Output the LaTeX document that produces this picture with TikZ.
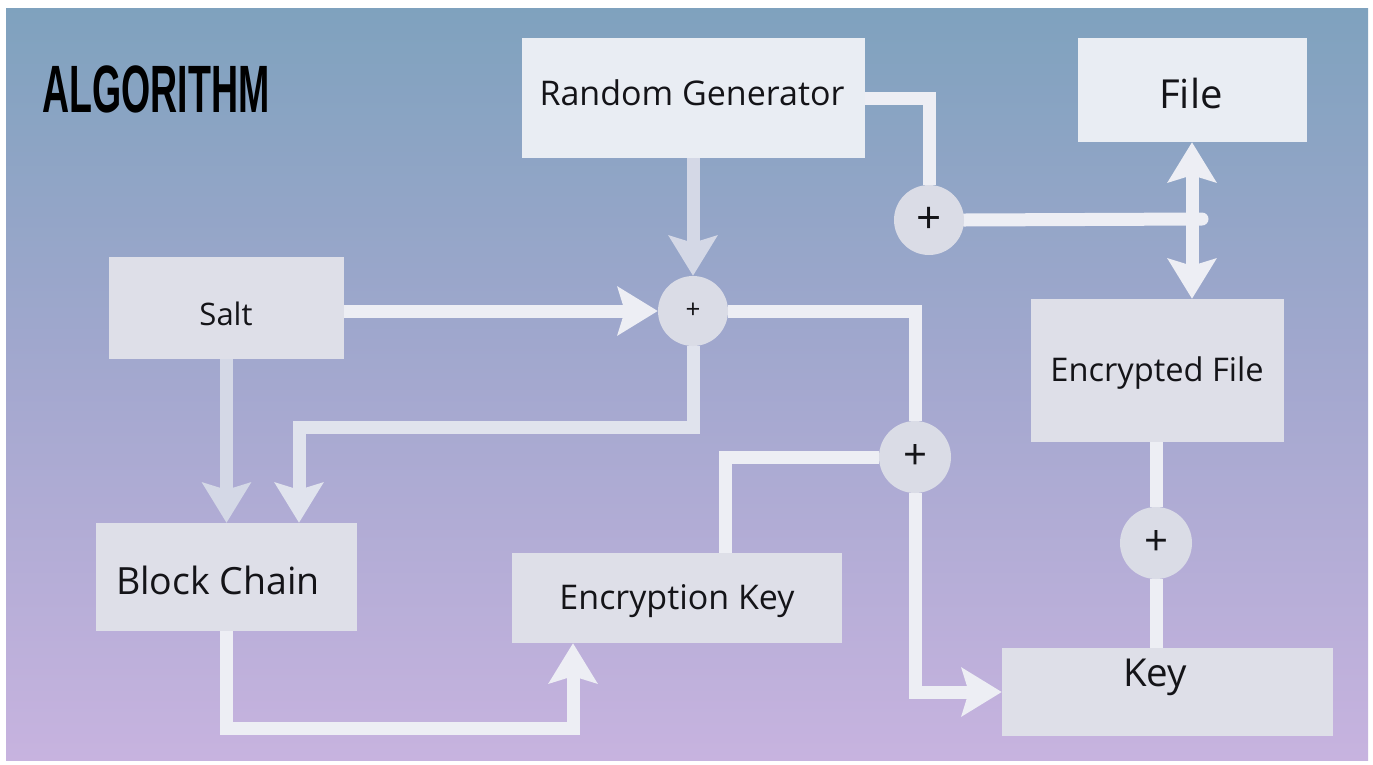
\documentclass[tikz,border=0pt]{standalone}
\usepackage{fontspec}
\setmainfont{Open Sans}
\newfontfamily\titlefont{Liberation Sans}
\usetikzlibrary{arrows.meta}
\pgfdeclarelayer{bg}
\pgfdeclarelayer{wires}
\pgfsetlayers{bg,wires,main}
\definecolor{bgtop}{RGB}{127,162,190}
\definecolor{bgmid}{RGB}{164,168,207}
\definecolor{bgbot}{RGB}{199,179,223}
\definecolor{boxlight}{RGB}{233,237,243}
\definecolor{boxgray}{RGB}{222,223,232}
\definecolor{circfill}{RGB}{218,220,230}
\definecolor{wirecol}{RGB}{237,238,244}
\definecolor{wiregray}{RGB}{212,216,230}
\definecolor{txt}{RGB}{20,20,24}
\tikzset{
  box/.style={fill=#1, inner sep=0pt},
  lbl/.style={inner sep=0pt, text=txt, font=\fontsize{#1}{#1}\selectfont},
  summer/.style={circle, fill=circfill, inner sep=0pt, minimum size=70pt, text=txt},
  wire/.style={draw=wirecol, line width=13pt, line join=miter},
  tip/.style={-{Stealth[length=40pt, width=48pt, inset=7pt]}},
  bitip/.style={{Stealth[length=40pt, width=48pt, inset=7pt]}-{Stealth[length=40pt, width=48pt, inset=7pt]}},
}
\begin{document}
\begin{tikzpicture}[x=1pt, y=-1pt]
\useasboundingbox (0,0) rectangle (1373,764);
\begin{pgfonlayer}{bg}
\fill[white] (0,0) rectangle (1373,764);
\shade[top color=bgtop, bottom color=bgbot, middle color=bgmid] (6,8) rectangle (1368,760);
\end{pgfonlayer}

% title
\node[inner sep=0pt, text=black] (title) at (156,89)
  {\scalebox{0.56}[1]{\titlefont\fontsize{67}{67}\selectfont\bfseries ALGORITHM}};

% boxes
\node[box=boxlight, minimum width=343pt, minimum height=120pt] (rg) at (693.5,98) {};
\node[lbl=34] (rgt) at (692,93) {Random Generator};
\node[box=boxlight, minimum width=229pt, minimum height=104pt] (file) at (1192.5,90) {};
\node[lbl=40] (filet) at (1191,93) {File};
\node[box=boxgray, minimum width=235pt, minimum height=102pt] (salt) at (226.5,308) {};
\node[lbl=31] (saltt) at (226,314) {Salt};
\node[box=boxgray, minimum width=261pt, minimum height=108pt] (bc) at (226.5,577) {};
\node[lbl=37.5] (bct) at (218,580) {Block Chain};
\node[box=boxgray, minimum width=330pt, minimum height=90pt] (ek) at (677,598) {};
\node[lbl=34] (ekt) at (677,601) {Encryption Key};
\node[box=boxgray, minimum width=253pt, minimum height=143pt] (ef) at (1157.5,370.5) {};
\node[lbl=32.6] (eft) at (1157,373) {Encrypted File};
\node[box=boxgray, minimum width=331pt, minimum height=88pt] (key) at (1167.5,692) {};
\node[lbl=38.5] (keyt) at (1155,677) {Key};

% summing circles
\node[summer, font=\fontsize{26}{26}\selectfont] (c1) at (693,311) {+};
\node[summer, font=\fontsize{44}{44}\selectfont] (c2) at (929,220) {+};
\node[summer, minimum size=72pt, font=\fontsize{42}{42}\selectfont] (c3) at (915,457) {+};
\node[summer, minimum size=72pt, font=\fontsize{42}{42}\selectfont] (c4) at (1156,543) {+};

% bend points
\coordinate (j1) at (1202,219);
\coordinate (k1) at (299,427);
\coordinate (k2) at (725,457);
\coordinate (k3) at (573,728);
\coordinate (kx) at (1192,0);

\begin{pgfonlayer}{wires}
\draw[wire] (rg.east) -| (c2.north);
\draw[wire, line cap=round] (c2.east) -- (j1);
\draw[wire, bitip] (file.south -| kx) -- (ef.north -| kx);
\draw[wire, draw=wiregray, tip] (rg.south -| c1) -- (c1.north);
\draw[wire, tip] (salt.east |- c1.west) -- (c1.west);
\draw[wire] (c1.east) -| (c3.north);
\draw[wire, draw=wiregray!50!wirecol, tip] (c1.south) |- (k1) -- (bc.north -| k1);
\draw[wire, draw=wiregray, tip] (salt.south) -- (bc.north -| salt.south);
\draw[wire] (ek.north -| k2) -- (k2) -- (c3.west);
\draw[wire, tip] (c3.south) |- (key.west);
\draw[wire] (ef.south -| c4) -- (c4.north);
\draw[wire] (c4.south) -- (key.north -| c4);
\draw[wire, tip] (bc.south) |- (k3) -- (ek.south -| k3);
\end{pgfonlayer}
\end{tikzpicture}
\end{document}
